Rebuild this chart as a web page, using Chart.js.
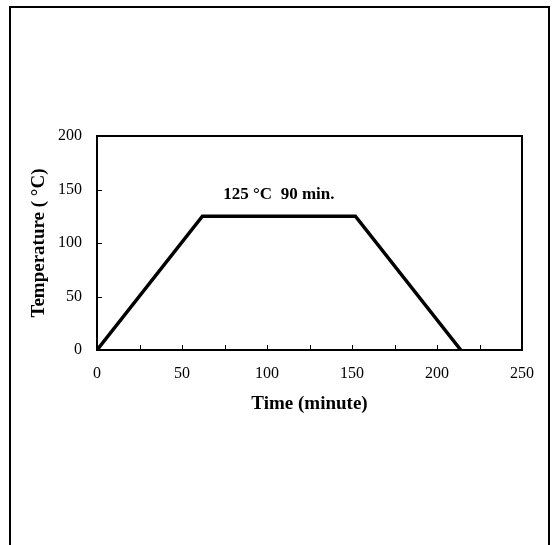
<!DOCTYPE html>
<html>
<head>
<meta charset="utf-8">
<style>
  html, body { margin: 0; padding: 0; background: #fff; }
  #wrap { width: 555px; height: 545px; }
</style>
<script src="https://cdn.jsdelivr.net/npm/chart.js@4/dist/chart.umd.min.js"></script>
</head>
<body>
<div id="wrap"><canvas id="c" width="555" height="545"></canvas></div>
<script>
// Data
const timeMin = [0, 62, 152, 214];
const tempC = [0, 125, 125, 0];
const xTickValues = [0, 50, 100, 150, 200, 250];
const yTickValues = [0, 50, 100, 150, 200];
const xMinorTicks = [25, 50, 75, 100, 125, 150, 175, 200, 225];
const yMinorTicks = [50, 100, 150];
const annotationText = '125 \u00B0C  90 min.';
const annotationPos = { x: 107, y: 145 };

const SERIF = '"Liberation Serif", "Times New Roman", serif';

const framePlugin = {
  id: 'frame',
  afterDraw(chart) {
    const ctx = chart.ctx;
    const a = chart.chartArea;
    const xs = chart.scales.x, ys = chart.scales.y;
    ctx.save();
    ctx.strokeStyle = '#000';
    // plot box
    ctx.lineWidth = 2;
    ctx.strokeRect(a.left, a.top, a.right - a.left, a.bottom - a.top);
    // inward tick marks
    ctx.lineWidth = 1;
    ctx.beginPath();
    xMinorTicks.forEach(v => {
      const px = Math.round(xs.getPixelForValue(v)) + 0.5;
      ctx.moveTo(px, a.bottom);
      ctx.lineTo(px, a.bottom - 5);
    });
    yMinorTicks.forEach(v => {
      const py = Math.round(ys.getPixelForValue(v)) + 0.5;
      ctx.moveTo(a.left, py);
      ctx.lineTo(a.left + 5, py);
    });
    ctx.stroke();
    // outer page frame
    ctx.lineWidth = 2;
    ctx.beginPath();
    ctx.moveTo(10, 545);
    ctx.lineTo(10, 7);
    ctx.lineTo(549, 7);
    ctx.lineTo(549, 545);
    ctx.stroke();
    // annotation
    ctx.fillStyle = '#000';
    ctx.font = 'bold 17px ' + SERIF;
    ctx.textAlign = 'center';
    ctx.textBaseline = 'middle';
    ctx.fillText(annotationText, xs.getPixelForValue(annotationPos.x), ys.getPixelForValue(annotationPos.y));
    ctx.restore();
  }
};

new Chart(document.getElementById('c'), {
  type: 'line',
  data: {
    datasets: [{
      data: timeMin.map((t, i) => ({ x: t, y: tempC[i] })),
      borderColor: '#000',
      borderWidth: 3.5,
      pointRadius: 0,
      fill: false,
      tension: 0,
      borderJoinStyle: 'miter'
    }]
  },
  options: {
    responsive: false,
    devicePixelRatio: 1,
    animation: false,
    layout: { padding: { left: 10, top: 136, right: 33, bottom: 100 } },
    plugins: { legend: { display: false }, tooltip: { enabled: false } },
    scales: {
      x: {
        type: 'linear',
        min: 0, max: 250,
        afterFit(s) { s.height = 95; },
        afterBuildTicks(s) { s.ticks = xTickValues.map(v => ({ value: v })); },
        grid: { display: false, drawTicks: false },
        border: { display: false },
        ticks: {
          color: '#000',
          padding: 14,
          maxRotation: 0,
          font: { family: SERIF, size: 16 }
        },
        title: {
          display: true,
          text: 'Time (minute)',
          color: '#000',
          font: { family: SERIF, size: 19, weight: 'bold' },
          padding: { top: 0, bottom: 30 }
        }
      },
      y: {
        type: 'linear',
        min: 0, max: 200,
        afterFit(s) { s.width = 87; },
        afterBuildTicks(s) { s.ticks = yTickValues.map(v => ({ value: v })); },
        grid: { display: false, drawTicks: false },
        border: { display: false },
        ticks: {
          color: '#000',
          padding: 15,
          font: { family: SERIF, size: 16 }
        },
        title: {
          display: true,
          text: 'Temperature ( \u00B0C)',
          color: '#000',
          font: { family: SERIF, size: 19, weight: 'bold' },
          padding: { top: 18, bottom: 0 }
        }
      }
    }
  },
  plugins: [framePlugin]
});
</script>
</body>
</html>
